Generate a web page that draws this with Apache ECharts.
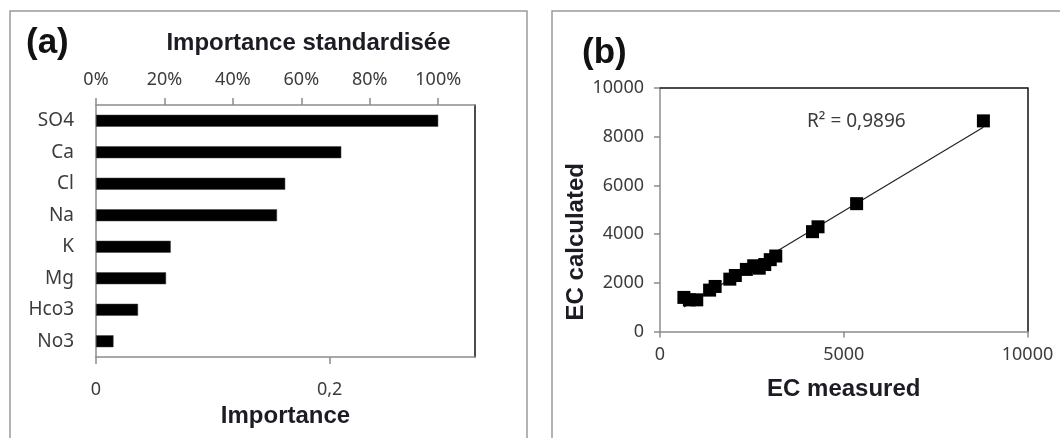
<!DOCTYPE html>
<html>
<head>
<meta charset="utf-8">
<script src="https://cdn.jsdelivr.net/npm/echarts@6/dist/echarts.min.js"></script>
<style>
  html, body { margin: 0; padding: 0; background: #fff; }
  #chart { width: 1060px; height: 438px; }
</style>
</head>
<body>
<div id="chart"></div>
<script>
// Panel (a): variable importance
const categories = ['SO4', 'Ca', 'Cl', 'Na', 'K', 'Mg', 'Hco3', 'No3'];
const importance = [0.293, 0.210, 0.162, 0.155, 0.064, 0.060, 0.036, 0.015];
const importanceTicks = [0, 0.2];
const percentTicks = [0, 20, 40, 60, 80, 100];

// Panel (b): measured vs calculated electrical conductivity
const ecMeasured   = [650, 800, 1000, 1350, 1500, 1900, 2050, 2350, 2550, 2700, 2850, 3000, 3150, 4150, 4300, 5350, 8800];
const ecCalculated = [1400, 1300, 1300, 1700, 1850, 2150, 2300, 2550, 2700, 2600, 2750, 2950, 3100, 4100, 4300, 5250, 8650];
const ecTicks = { x: 5000, y: 2000 };
const r2Label = 'R² = 0,9896';

const importanceMax = 0.3245;
const percentMax = importanceMax / importance[0] * 100;

// least-squares trend line across the measured range
function trendLine(xs, ys) {
  const n = xs.length;
  const mx = xs.reduce((a, b) => a + b, 0) / n;
  const my = ys.reduce((a, b) => a + b, 0) / n;
  let sxy = 0, sxx = 0;
  for (let i = 0; i < n; i++) { sxy += (xs[i] - mx) * (ys[i] - my); sxx += (xs[i] - mx) ** 2; }
  const slope = sxy / sxx, icpt = my - slope * mx;
  const x0 = Math.min(...xs), x1 = Math.max(...xs);
  return [[x0, icpt + slope * x0], [x1, icpt + slope * x1]];
}

const gridGrey = '#8c8c8c';
const tickText = { color: '#3c3c3c', fontFamily: 'Noto Sans', fontSize: 18 };
const titleText = { color: '#1c1c24', fontFamily: 'Liberation Sans', fontWeight: 'bold', fontSize: 24 };
const comma = v => String(v).replace('.', ',');
const plain = v => String(v);
const frameLine = { show: true, onZero: false, lineStyle: { color: '#111', width: 1.5 } };

const chart = echarts.init(document.getElementById('chart'), null, { renderer: 'canvas' });

chart.setOption({
  backgroundColor: '#ffffff',
  animation: false,
  grid: [
    { left: 96, top: 105, width: 379, height: 252 },
    { left: 660, top: 88, width: 367.5, height: 243.5 }
  ],
  xAxis: [
    { // importance (bottom)
      type: 'value', gridIndex: 0, position: 'bottom', min: 0, max: importanceMax,
      axisLine: { onZero: false, lineStyle: { color: gridGrey, width: 1.5 } },
      axisTick: { customValues: importanceTicks, length: 7, lineStyle: { color: gridGrey, width: 1.5 } },
      axisLabel: { customValues: importanceTicks, formatter: comma, margin: 24, ...tickText },
      splitLine: { show: false },
      name: 'Importance', nameLocation: 'middle', nameGap: 40, nameTextStyle: titleText
    },
    { // standardised importance (top)
      type: 'value', gridIndex: 0, position: 'top', min: 0, max: percentMax,
      axisLine: { onZero: false, lineStyle: { color: gridGrey, width: 1.5 } },
      axisTick: { customValues: percentTicks, length: 7, lineStyle: { color: gridGrey, width: 1.5 } },
      axisLabel: { customValues: percentTicks, formatter: v => v + '%', margin: 16, ...tickText },
      splitLine: { show: false },
      name: 'Importance standardisée', nameLocation: 'middle', nameGap: 50,
      nameTextStyle: { ...titleText, padding: [0, 0, 0, 46] }
    },
    { // EC measured
      type: 'value', gridIndex: 1, position: 'bottom', min: 0, max: 10000, interval: ecTicks.x,
      axisLine: { onZero: false, lineStyle: { color: gridGrey, width: 1.5 } },
      axisTick: { length: 6, lineStyle: { color: gridGrey, width: 1.5 } },
      axisLabel: { margin: 14, formatter: plain, ...tickText },
      splitLine: { show: false },
      name: 'EC measured', nameLocation: 'middle', nameGap: 46, nameTextStyle: titleText
    },
    { // plot frame, top edge
      type: 'value', gridIndex: 1, position: 'top', min: 0, max: 10000,
      axisLine: frameLine,
      axisTick: { show: false }, axisLabel: { show: false }, splitLine: { show: false }
    }
  ],
  yAxis: [
    {
      type: 'category', gridIndex: 0, data: categories, inverse: true,
      axisLine: { onZero: false, lineStyle: { color: gridGrey, width: 1.5 } },
      axisTick: { show: false },
      axisLabel: { margin: 22, ...tickText, fontSize: 19 }
    },
    { // plot frame, right edge
      type: 'value', gridIndex: 0, position: 'right', min: 0, max: 1,
      axisLine: frameLine,
      axisTick: { show: false }, axisLabel: { show: false }, splitLine: { show: false }
    },
    { // EC calculated
      type: 'value', gridIndex: 1, position: 'left', min: 0, max: 10000, interval: ecTicks.y,
      axisLine: { show: true, onZero: false, lineStyle: { color: gridGrey, width: 1.5 } },
      axisTick: { show: true, length: 6, lineStyle: { color: gridGrey, width: 1.5 } },
      axisLabel: { margin: 16, formatter: plain, ...tickText },
      splitLine: { show: false },
      name: 'EC calculated', nameLocation: 'middle', nameGap: 70, nameRotate: 90,
      nameTextStyle: { ...titleText, padding: [0, 64, 0, 0] }
    },
    { // plot frame, right edge
      type: 'value', gridIndex: 1, position: 'right', min: 0, max: 10000,
      axisLine: frameLine,
      axisTick: { show: false }, axisLabel: { show: false }, splitLine: { show: false }
    }
  ],
  series: [
    {
      type: 'bar', xAxisIndex: 0, yAxisIndex: 0, data: importance,
      barWidth: 12, itemStyle: { color: '#000', borderColor: '#444', borderWidth: 0.5 }
    },
    {
      type: 'line', xAxisIndex: 2, yAxisIndex: 2, data: trendLine(ecMeasured, ecCalculated),
      symbol: 'none', lineStyle: { color: '#222', width: 1.2 }, z: 1
    },
    {
      type: 'scatter', xAxisIndex: 2, yAxisIndex: 2,
      data: ecMeasured.map((x, i) => [x, ecCalculated[i]]),
      symbol: 'rect', symbolSize: 13, itemStyle: { color: '#000', opacity: 1 }, z: 3
    }
  ],
  graphic: [
    { type: 'rect', shape: { x: 10, y: 11, width: 517, height: 460 }, style: { fill: 'none', stroke: '#9a9a9a', lineWidth: 1.5 }, z: -1 },
    { type: 'rect', shape: { x: 552, y: 11, width: 540, height: 460 }, style: { fill: 'none', stroke: '#9a9a9a', lineWidth: 1.5 }, z: -1 },
    { type: 'text', left: 26, top: 26, style: { text: '(a)', font: 'bold 35px "Liberation Sans"', fill: '#111' } },
    { type: 'text', left: 582, top: 36, style: { text: '(b)', font: 'bold 35px "Liberation Sans"', fill: '#111' } },
    { type: 'text', left: 807, top: 112, style: { text: r2Label, font: '19px "Noto Sans"', fill: '#3c3c3c' } }
  ]
});
</script>
</body>
</html>
